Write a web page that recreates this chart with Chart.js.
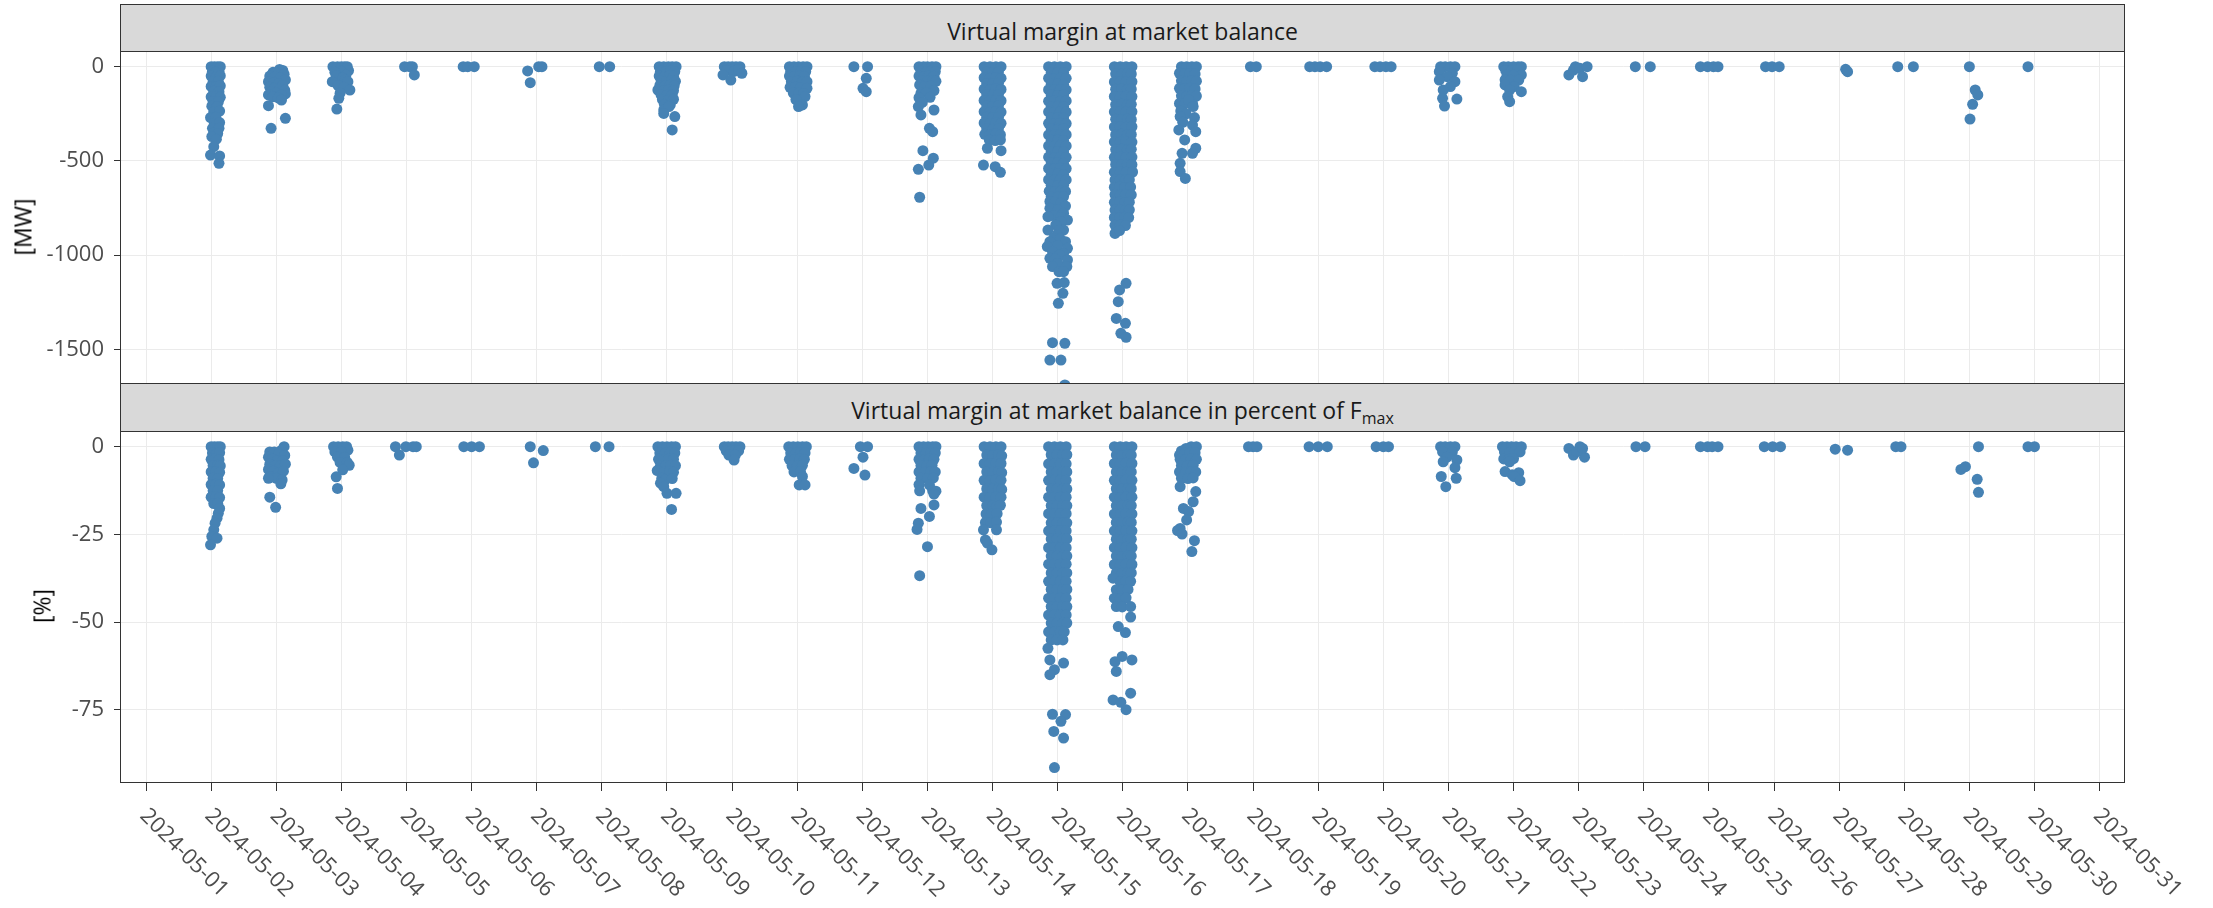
<!DOCTYPE html>
<html>
<head>
<meta charset="utf-8">
<script src="https://cdn.jsdelivr.net/npm/chart.js@4.4.1/dist/chart.umd.min.js"></script>
<style>
  html, body { margin:0; padding:0; background:#ffffff; width:2213px; height:908px; overflow:hidden; font-family:'Open Sans', sans-serif; }
  canvas { position:absolute; left:0; }
  #c1 { top:0; }
  #c2 { top:380px; }
  .strip { position:absolute; left:120px; width:2005px; box-sizing:border-box; background:#d9d9d9; border:1px solid #333333; }
  .stripText { position:absolute; left:120px; width:2005px; text-align:center; font-size:23px; line-height:23px; color:#1a1a1a; white-space:nowrap; }
  .stripText .sub { font-size:16px; vertical-align:-5px; }
  .ytitle { position:absolute; font-size:23px; line-height:23px; color:#000000; white-space:nowrap; transform:translate(-50%,-50%) rotate(-90deg); }
</style>
</head>
<body>
<canvas id="c1" width="2213" height="392"></canvas>
<canvas id="c2" width="2213" height="528"></canvas>
<div class="strip" style="top:4px;height:48px"></div>
<div class="stripText" style="top:20px">Virtual margin at market balance</div>
<div class="strip" style="top:383px;height:49px"></div>
<div class="stripText" style="top:399px">Virtual margin at market balance in percent of F<span class="sub">max</span></div>
<div class="ytitle" style="left:23px;top:227px">[MW]</div>
<div class="ytitle" style="left:42px;top:606px">[%]</div>
<script>
// ---------------- DATA ----------------
const tickLabels = ['2024-05-01','2024-05-02','2024-05-03','2024-05-04','2024-05-05','2024-05-06','2024-05-07','2024-05-08','2024-05-09','2024-05-10','2024-05-11','2024-05-12','2024-05-13','2024-05-14','2024-05-15','2024-05-16','2024-05-17','2024-05-18','2024-05-19','2024-05-20','2024-05-21','2024-05-22','2024-05-23','2024-05-24','2024-05-25','2024-05-26','2024-05-27','2024-05-28','2024-05-29','2024-05-30','2024-05-31'];
const mwTicks = [-1500, -1000, -500, 0];
const pctTicks = [-75, -50, -25, 0];

// Each point: [time offset from the day's tick (days), value]
// Virtual margin at market balance [MW]
const mw0502 = [[0,0],[.05,0],[.1,0],[.14,0],[.02,-25],[.12,-25],[.07,-30],[0,-50],[.08,-52],[.14,-48],[.03,-80],[.11,-78],[0,-105],[.07,-108],[.14,-102],[.04,-130],[.12,-133],[0,-160],[.08,-157],[.14,-163],[.03,-185],[.11,-188],[.01,-210],[.09,-213],[.04,-240],[.13,-236],[-.01,-270],[.07,-268],[.05,-300],[.13,-297],[.02,-327],[.12,-327],[.04,-352],[.1,-355],[.01,-371],[.08,-385],[.04,-425],[-.01,-469],[.13,-474],[.12,-513]];
const mw0503 = [[.05,-15],[.1,-20],[-.05,-30],[0,-35],[.12,-40],[-.1,-50],[-.02,-55],[.06,-60],[.14,-70],[-.12,-80],[-.04,-85],[.04,-90],[.1,-100],[-.1,-110],[-.03,-115],[.05,-120],[.13,-125],[-.08,-135],[0,-140],[.14,-145],[-.12,-150],[.08,-150],[-.05,-160],[.03,-165],[.08,-177],[-.12,-207],[.14,-274],[-.08,-327]];
const mw0504 = [[-.13,0],[-.06,0],[0,0],[.05,0],[.09,0],[.11,-21],[0,-25],[-.1,-30],[-.08,-50],[.07,-45],[.02,-60],[.06,-71],[-.14,-80],[.1,-80],[-.05,-100],[.04,-110],[.13,-124],[-.02,-141],[-.04,-168],[-.07,-225]];
const mw0505 = [[-.03,0],[.05,0],[.09,0],[.12,-44]];
const mw0506 = [[-.13,0],[-.06,0],[.04,0]];
const mw0507 = [[-.14,-23],[-.1,-85],[.03,0],[.08,0]];
const mw0508 = [[-.04,0],[.12,0]];
const mw0509 = [[-.12,0],[-.05,0],[.02,0],[.08,0],[.14,0],[-.1,-25],[-.02,-27],[.06,-23],[.12,-26],[-.12,-50],[-.04,-52],[.04,-48],[.1,-51],[-.09,-75],[-.01,-77],[.07,-74],[.13,-78],[-.11,-100],[-.03,-103],[.05,-98],[.11,-101],[-.14,-124],[-.05,-127],[.03,-123],[.1,-126],[-.09,-150],[0,-152],[.08,-148],[-.07,-175],[.02,-178],[.1,-173],[-.04,-200],[.05,-203],[-.05,-230],[.03,-212],[-.05,-248],[.12,-265],[.08,-336]];
const mw0510 = [[-.12,0],[-.06,0],[0,0],[.06,0],[.12,0],[-.08,-20],[.03,-25],[.1,-15],[.15,-35],[-.14,-44],[-.02,-71]];
const mw0511 = [[-.12,0],[-.05,0],[.02,0],[.09,0],[.15,0],[-.1,-25],[-.02,-27],[.06,-24],[.13,-26],[-.12,-50],[-.04,-52],[.04,-49],[.11,-51],[-.09,-80],[0,-78],[.08,-82],[.15,-80],[-.11,-110],[-.03,-108],[.05,-112],[.15,-115],[-.06,-140],[.03,-138],[.1,-142],[.12,-159],[-.02,-175],[.08,-203],[.02,-212]];
const mw0512 = [[-.13,0],[.08,0],[.06,-62],[.01,-115],[.06,-133]];
const mw0513 = [[-.13,0],[-.06,0],[0,0],[.07,0],[.13,0],[-.1,-25],[-.02,-27],[.05,-24],[.12,-26],[-.13,-50],[-.05,-52],[.02,-49],[.1,-51],[-.08,-75],[0,-77],[.08,-74],[.13,-78],[-.12,-97],[-.04,-105],[.05,-103],[.1,-127],[-.1,-140],[-.02,-138],[-.13,-165],[.04,-163],[-.08,-190],[-.14,-212],[.1,-230],[-.1,-256],[.03,-327],[.08,-345],[-.07,-446],[.09,-486],[.02,-522],[-.14,-545],[-.12,-693]];
const mw0514 = [[-.13,0],[-.04,0],[.05,0],[.13,0],[-.09,-28],[0,-31],[.09,-29],[-.13,-59],[-.04,-62],[.05,-58],[.13,-61],[-.09,-89],[0,-92],[.09,-88],[-.13,-119],[-.04,-122],[.05,-118],[.13,-121],[-.09,-149],[0,-152],[.09,-148],[-.13,-179],[-.04,-182],[.05,-178],[.13,-181],[-.09,-209],[0,-212],[.09,-208],[-.13,-239],[-.04,-242],[.05,-238],[.13,-241],[-.09,-269],[0,-272],[.09,-268],[-.13,-299],[-.04,-302],[.05,-298],[.13,-301],[-.09,-329],[0,-332],[.09,-328],[-.12,-359],[-.04,-362],[.05,-358],[.12,-361],[-.05,-389],[.04,-392],[.12,-388],[-.08,-433],[.13,-446],[-.14,-522],[.04,-531],[.12,-561]];
const mw0515 = [[-.14,0],[-.05,0],[.04,0],[.13,0],[-.1,-32],[0,-30],[.09,-33],[-.14,-61],[-.05,-63],[.04,-60],[.13,-62],[-.1,-93],[0,-91],[.09,-94],[-.14,-122],[-.05,-124],[.04,-121],[.13,-123],[-.1,-151],[0,-153],[.09,-150],[-.14,-183],[-.05,-181],[.04,-184],[.13,-182],[-.1,-212],[0,-210],[.09,-213],[-.14,-240],[-.05,-242],[.04,-239],[.13,-241],[-.1,-272],[0,-270],[.09,-273],[-.14,-301],[-.05,-303],[.04,-300],[.13,-302],[-.1,-330],[0,-332],[.09,-329],[-.14,-362],[-.05,-360],[.04,-363],[.13,-361],[-.1,-391],[0,-389],[.09,-392],[-.14,-420],[-.05,-422],[.04,-419],[.13,-421],[-.1,-452],[0,-450],[.09,-453],[-.14,-480],[-.05,-482],[.04,-479],[.13,-481],[-.1,-511],[0,-509],[.09,-512],[-.14,-540],[-.05,-542],[.04,-539],[.13,-541],[-.1,-571],[0,-569],[.09,-572],[-.14,-600],[-.05,-602],[.04,-599],[.13,-601],[-.1,-630],[0,-632],[.09,-629],[-.13,-661],[-.04,-663],[.05,-660],[.12,-662],[-.1,-690],[0,-692],[.09,-689],[-.12,-715],[-.05,-720],[.05,-725],[.12,-740],[-.12,-752],[0,-760],[.09,-778],[-.07,-790],[-.15,-796],[.05,-800],[.15,-814],[.05,-823],[-.03,-840],[-.15,-867],[.09,-867],[.02,-870],[-.01,-893],[-.06,-910],[.04,-915],[-.12,-929],[.12,-929],[0,-950],[-.16,-955],[.15,-964],[-.08,-982],[.09,-991],[.03,-1000],[-.12,-1017],[-.04,-1020],[.15,-1026],[0,-1044],[-.08,-1061],[.14,-1061],[.02,-1088],[.09,-1088],[-.01,-1150],[.1,-1146],[.08,-1203],[.01,-1256],[-.08,-1465],[.11,-1468],[-.12,-1557],[.05,-1557],[.11,-1689]];
const mw0516 = [[-.13,0],[-.04,0],[.05,0],[.14,0],[-.11,-38],[-.02,-40],[.07,-37],[.13,-39],[-.13,-81],[-.04,-79],[.05,-82],[.14,-80],[-.11,-120],[-.02,-118],[.07,-121],[.13,-119],[-.13,-158],[-.04,-160],[.05,-157],[.14,-159],[-.11,-201],[-.02,-199],[.07,-202],[.13,-200],[-.13,-240],[-.04,-238],[.05,-241],[.14,-239],[-.11,-279],[-.02,-281],[.07,-278],[.13,-280],[-.13,-320],[-.04,-318],[.05,-321],[.14,-319],[-.11,-361],[-.02,-359],[.07,-362],[.13,-360],[-.13,-399],[-.04,-401],[.05,-398],[.14,-400],[-.11,-440],[-.02,-438],[.07,-441],[.13,-439],[-.13,-481],[-.04,-479],[.05,-482],[.14,-480],[-.11,-519],[-.02,-521],[.07,-518],[.14,-520],[-.13,-560],[-.04,-558],[.05,-561],[.15,-559],[-.12,-601],[-.04,-599],[.04,-602],[.1,-600],[-.13,-640],[-.05,-638],[.03,-641],[.12,-639],[-.12,-679],[-.04,-681],[.04,-678],[.13,-680],[-.13,-720],[-.05,-718],[.03,-721],[.1,-719],[-.12,-761],[-.04,-759],[.04,-762],[.1,-760],[-.13,-800],[-.05,-802],[.03,-799],[.09,-801],[-.12,-842],[-.04,-840],[.04,-843],[-.12,-885],[-.05,-870],[.05,-1150],[-.05,-1185],[-.07,-1247],[-.1,-1336],[.04,-1362],[-.03,-1415],[.05,-1436]];
const mw0517 = [[-.1,0],[-.02,0],[.06,0],[.13,0],[-.13,-35],[-.05,-38],[.03,-36],[.11,-39],[-.1,-75],[-.02,-78],[.06,-74],[.13,-77],[-.13,-115],[-.05,-117],[.03,-114],[.11,-118],[-.1,-155],[-.02,-157],[.06,-154],[.13,-156],[-.13,-195],[-.05,-197],[.07,-194],[-.11,-235],[.01,-177],[.08,-212],[-.03,-250],[-.12,-265],[.1,-270],[-.08,-295],[.07,-310],[-.14,-336],[.12,-345],[-.05,-389],[.12,-433],[-.09,-460],[.07,-460],[-.12,-513],[-.12,-557],[-.04,-593]];
const mw0518 = [[-.04,0],[.05,0]];
const mw0519 = [[-.13,0],[-.05,0],[.03,0],[.13,0]];
const mw0520 = [[-.13,0],[-.05,0],[.04,0],[.12,0]];
const mw0521 = [[-.12,0],[-.05,0],[.03,0],[.1,0],[-.14,-27],[.06,-35],[-.02,-53],[-.14,-71],[.1,-80],[.03,-106],[-.08,-124],[-.09,-168],[.13,-172],[-.06,-209]];
const mw0522 = [[-.15,0],[-.08,0],[0,0],[.07,0],[.12,0],[-.12,-20],[-.03,-22],[.06,-19],[.12,-44],[-.1,-44],[0,-46],[-.13,-70],[-.04,-72],[.08,-71],[-.13,-97],[.01,-106],[-.06,-124],[.12,-133],[-.09,-159],[-.06,-186]];
const mw0523 = [[-.15,-44],[-.08,-18],[-.05,0],[.02,-9],[.06,-53],[.13,0]];
const mw0524 = [[-.13,0],[.1,0]];
const mw0525 = [[-.13,0],[-.02,0],[.07,0],[.14,0]];
const mw0526 = [[-.13,0],[-.03,0],[.08,0]];
const mw0527 = [[.1,-14],[.13,-27]];
const mw0528 = [[-.1,0],[.14,0]];
const mw0529 = [[0,0],[.09,-124],[.13,-150],[.05,-200],[.01,-278]];
const mw0530 = [[-.1,0]];

// Virtual margin at market balance in percent of Fmax [%]
const pct0502 = [[0,0],[.05,0],[.1,0],[.14,0],[.02,-1.8],[.08,-1.9],[.13,-1.7],[0,-3.6],[.06,-3.5],[.12,-3.7],[.03,-5.4],[.1,-5.3],[.14,-5.5],[0,-7.2],[.07,-7.1],[.13,-7.3],[.03,-9],[.1,-9.1],[0,-10.8],[.07,-10.7],[.13,-10.9],[.03,-12.6],[.1,-12.5],[0,-14.4],[.07,-14.3],[.13,-14.5],[.04,-16.2],[.1,-16.1],[.13,-17.6],[.11,-19],[.09,-20.4],[.06,-21.8],[.04,-23.7],[.01,-25.6],[.09,-26.1],[-.01,-28]];
const pct0503 = [[.12,0],[.08,-1],[-.1,-1.5],[-.03,-1.5],[.04,-2],[.13,-2.5],[-.12,-3],[-.06,-3.5],[.02,-4],[.1,-4],[-.1,-5],[-.02,-5.5],[.06,-5.5],[.14,-5],[-.12,-6.5],[-.05,-7],[.03,-7.5],[.11,-7],[-.1,-8.5],[0,-9],[.09,-9.5],[-.12,-9],[.07,-10.6],[-.1,-14.4],[-.01,-17.3]];
const pct0504 = [[-.12,0],[-.05,0],[.02,0],[.08,0],[.1,-1],[-.1,-1.5],[0,-1.5],[-.06,-3],[.05,-3],[-.02,-4.5],[.09,-4.5],[.12,-5.3],[.02,-6.6],[-.08,-8.6],[-.06,-11.9]];
const pct0505 = [[-.17,0],[-.11,-2.4],[-.01,0],[.1,0],[.15,0]];
const pct0506 = [[-.12,0],[0,0],[.12,0]];
const pct0507 = [[-.1,0],[.1,-1.1],[-.05,-4.6]];
const pct0508 = [[-.1,0],[.11,0]];
const pct0509 = [[-.14,0],[-.07,0],[0,0],[.07,0],[.13,0],[-.11,-1.8],[-.03,-1.9],[.05,-1.7],[.12,-1.8],[-.13,-3.6],[-.05,-3.7],[.03,-3.5],[.1,-3.6],[-.1,-5.4],[-.02,-5.5],[.06,-5.3],[.13,-5.4],[-.15,-6.8],[-.04,-7.2],[.04,-7.1],[.1,-7.3],[-.08,-9],[-.03,-9.5],[.08,-9.1],[-.1,-10.4],[-.05,-11.4],[0,-13.3],[.14,-13.3],[.07,-17.9]];
const pct0510 = [[-.12,0],[-.06,0],[0,0],[.06,0],[.12,0],[-.09,-1.2],[-.02,-1.3],[.04,-1.1],[.1,-1.2],[-.05,-2.4],[.05,-2.4],[.03,-3.8]];
const pct0511 = [[-.13,0],[-.06,0],[.01,0],[.08,0],[.14,0],[-.1,-1.8],[-.02,-1.9],[.05,-1.7],[.12,-1.8],[-.12,-3.6],[-.04,-3.7],[.04,-3.5],[.11,-3.6],[-.08,-5.4],[0,-5.5],[.08,-5.3],[-.05,-7.2],[.05,-7.1],[.08,-8.5],[.03,-10.9],[.12,-10.9]];
const pct0512 = [[-.03,0],[.08,0],[.01,-3],[-.13,-6.2],[.04,-8.1]];
const pct0513 = [[-.13,0],[-.06,0],[.01,0],[.08,0],[.13,0],[-.1,-1.8],[-.02,-1.9],[.05,-1.7],[.12,-1.8],[-.13,-3.6],[-.05,-3.7],[.03,-3.5],[.1,-3.6],[-.1,-5.4],[-.01,-5.5],[.07,-5.3],[-.13,-7.2],[-.04,-7.3],[.05,-7.1],[.12,-7.2],[-.1,-9],[0,-9.1],[.09,-8.9],[-.13,-10.8],[.03,-10.9],[-.12,-12.6],[.08,-12.5],[.13,-12.7],[.1,-13.5],[.1,-16.6],[-.1,-17.6],[.03,-19.9],[-.14,-21.8],[-.16,-23.6],[0,-28.5],[-.12,-36.8]];
const pct0514 = [[-.13,0],[-.04,0],[.05,0],[.13,0],[-.09,-2.4],[0,-2.5],[.09,-2.3],[.14,-2.6],[-.13,-4.8],[-.04,-4.9],[.05,-4.7],[.13,-4.8],[-.09,-7.2],[0,-7.3],[.09,-7.1],[.14,-7.4],[-.13,-9.6],[-.04,-9.7],[.05,-9.5],[.13,-9.6],[-.09,-12],[0,-12.1],[.09,-11.9],[.14,-12.2],[-.13,-14.4],[-.04,-14.5],[.05,-14.3],[.13,-14.4],[-.09,-16.8],[0,-16.9],[.06,-17.1],[.12,-16.7],[-.1,-19.2],[-.02,-19.3],[.07,-19.1],[-.11,-21.6],[-.03,-21.7],[.06,-21.5],[-.14,-23.7],[.06,-23.7],[-.11,-26.6],[-.08,-27.5],[-.01,-29.4]];
const pct0515 = [[-.14,0],[-.05,0],[.04,0],[.13,0],[-.1,-2.3],[-.01,-2.3],[.08,-2.3],[.14,-2.3],[-.14,-4.9],[-.05,-4.9],[.04,-4.9],[.13,-4.9],[-.1,-7.2],[-.01,-7.2],[.08,-7.2],[.14,-7.2],[-.14,-9.6],[-.05,-9.6],[.04,-9.6],[.13,-9.6],[-.1,-12.1],[-.01,-12.1],[.08,-12.1],[.14,-12.1],[-.14,-14.4],[-.05,-14.4],[.04,-14.4],[.13,-14.4],[-.1,-16.8],[-.01,-16.8],[.08,-16.8],[.14,-16.8],[-.14,-19.1],[-.05,-19.1],[.04,-19.1],[.13,-19.1],[-.1,-21.7],[-.01,-21.7],[.08,-21.7],[.14,-21.7],[-.14,-24],[-.05,-24],[.04,-24],[.13,-24],[-.1,-26.3],[-.01,-26.3],[.08,-26.3],[.14,-26.3],[-.14,-28.8],[-.05,-28.8],[.04,-28.8],[.13,-28.8],[-.1,-31.2],[-.01,-31.2],[.08,-31.2],[.14,-31.2],[-.14,-33.5],[-.05,-33.5],[.04,-33.5],[.13,-33.5],[-.1,-36],[-.01,-36],[.08,-36],[.14,-36],[-.14,-38.4],[-.05,-38.4],[.04,-38.4],[.13,-38.4],[-.1,-40.7],[-.01,-40.7],[.08,-40.7],[.14,-40.7],[-.14,-43.2],[-.05,-43.2],[.04,-43.2],[.13,-43.2],[-.1,-45.6],[-.01,-45.6],[.08,-45.6],[.14,-45.6],[-.14,-48],[-.05,-48],[.04,-48],[.13,-48],[-.1,-50.3],[-.01,-50.3],[.08,-50.3],[.14,-50.3],[-.14,-52.8],[-.05,-52.8],[.04,-52.8],[.1,-52.8],[-.1,-55.1],[-.01,-55.1],[.08,-55.1],[-.15,-57.5],[-.12,-60.8],[.09,-61.7],[-.05,-63.6],[-.12,-65],[-.08,-76.3],[.12,-76.4],[.05,-78.3],[-.06,-81.2],[.09,-83.1],[-.05,-91.5]];
const pct0516 = [[-.13,0],[-.04,0],[.05,0],[.14,0],[-.1,-2.4],[-.01,-2.5],[.08,-2.3],[.13,-2.4],[-.13,-4.8],[-.04,-4.9],[.05,-4.7],[.14,-4.8],[-.1,-7.2],[-.01,-7.3],[.08,-7.1],[.13,-7.2],[-.13,-9.6],[-.04,-9.7],[.05,-9.5],[.14,-9.6],[-.1,-12],[-.01,-12.1],[.08,-11.9],[.13,-12],[-.13,-14.4],[-.04,-14.5],[.05,-14.3],[.14,-14.4],[-.1,-16.8],[-.01,-16.9],[.08,-16.7],[.13,-16.8],[-.13,-19.2],[-.04,-19.3],[.05,-19.1],[.14,-19.2],[-.1,-21.6],[-.01,-21.7],[.08,-21.5],[.13,-21.6],[-.13,-24],[-.04,-24.1],[.05,-23.9],[.14,-24],[-.1,-26.4],[-.01,-26.5],[.08,-26.3],[.13,-26.4],[-.13,-28.8],[-.04,-28.9],[.05,-28.7],[.14,-28.8],[-.1,-31.2],[-.01,-31.3],[.08,-31.1],[.13,-31.2],[-.13,-33.6],[-.04,-33.7],[.05,-33.5],[.14,-33.6],[-.1,-36],[-.01,-36.1],[.08,-35.9],[.13,-36],[-.15,-37.5],[-.04,-38.5],[.05,-38.3],[.12,-38.4],[-.1,-40.8],[-.01,-40.9],[.08,-40.7],[-.13,-43.2],[-.04,-43.3],[.05,-43.1],[-.1,-45.6],[-.01,-45.7],[.12,-45.6],[.12,-48.6],[-.07,-51.3],[.04,-53],[-.01,-59.8],[.14,-60.8],[-.12,-61.3],[-.1,-64.1],[.12,-70.3],[-.15,-72.2],[-.03,-72.9],[.05,-75]];
const pct0517 = [[.05,0],[.13,0],[-.03,-0.5],[-.1,-1.2],[-.13,-2.4],[-.05,-1.9],[.03,-1.8],[.11,-1.7],[-.12,-3.6],[-.04,-3.7],[.05,-3.5],[.13,-3.6],[-.1,-5.4],[-.01,-5.5],[.08,-5.3],[-.13,-7.2],[-.04,-7.3],[.05,-7.1],[.12,-7.2],[-.1,-9],[0,-9.1],[.08,-8.9],[-.12,-11.4],[.12,-12.8],[.08,-15.7],[-.07,-17.6],[.01,-18.5],[-.02,-20.9],[-.12,-23.3],[-.16,-23.9],[-.09,-24.9],[.1,-26.8],[.06,-29.9]];
const pct0518 = [[-.07,0],[0,0],[.06,0]];
const pct0519 = [[-.14,0],[0,0],[.14,0]];
const pct0520 = [[-.11,0],[0,0],[.08,0]];
const pct0521 = [[-.12,0],[-.05,0],[.03,0],[.1,0],[-.09,-1.5],[.06,-1.5],[-.02,-3],[-.08,-4.3],[.13,-3.8],[.1,-6],[-.11,-8.5],[.12,-9],[-.04,-11.4]];
const pct0522 = [[-.17,0],[-.1,0],[-.03,0],[.04,0],[.12,0],[-.14,-1.5],[-.06,-1.6],[.02,-1.4],[.1,-1.5],[-.15,-3.5],[-.07,-3.6],[0,-3.4],[-.06,-4.3],[-.13,-7.1],[.08,-7.4],[-.02,-8],[.01,-8.5],[.1,-9.7]];
const pct0523 = [[-.15,-0.5],[-.08,-2.4],[.02,0],[.09,-3],[-.03,-1.4],[.06,-0.5]];
const pct0524 = [[-.12,0],[.02,0]];
const pct0525 = [[-.13,0],[-.02,0],[.05,0],[.14,0]];
const pct0526 = [[-.15,0],[-.02,0],[.1,0]];
const pct0527 = [[-.06,-0.7],[.13,-1]];
const pct0528 = [[-.13,0],[-.05,0]];
const pct0529 = [[-.13,-6.5],[-.06,-5.7],[.12,-9.3],[.14,-13],[.14,0]];
const pct0530 = [[-.1,0],[0,0]];

// day index (position in list) + 1 = days after 2024-05-01
const mwByDay = [mw0502,mw0503,mw0504,mw0505,mw0506,mw0507,mw0508,mw0509,mw0510,mw0511,mw0512,mw0513,mw0514,mw0515,mw0516,mw0517,mw0518,mw0519,mw0520,mw0521,mw0522,mw0523,mw0524,mw0525,mw0526,mw0527,mw0528,mw0529,mw0530];
const pctByDay = [pct0502,pct0503,pct0504,pct0505,pct0506,pct0507,pct0508,pct0509,pct0510,pct0511,pct0512,pct0513,pct0514,pct0515,pct0516,pct0517,pct0518,pct0519,pct0520,pct0521,pct0522,pct0523,pct0524,pct0525,pct0526,pct0527,pct0528,pct0529,pct0530];

// ---------------- CHARTS ----------------
Chart.defaults.font.family = "'Open Sans', sans-serif";
const GRID = '#ebebeb', INK = '#333333', TICK_TXT = '#4d4d4d', DOT = '#4682b4';
const X_MIN = -0.4, X_MAX = 30.39;

function toPoints(days) {
  const pts = [];
  days.forEach((arr, i) => arr.forEach(p => pts.push({ x: i + 1 + p[0], y: p[1] })));
  return pts;
}

const panelBorder = {
  id: 'panelBorder',
  afterDatasetsDraw(chart) {
    const { ctx, chartArea: a } = chart;
    ctx.save();
    ctx.strokeStyle = INK;
    ctx.lineWidth = 1;
    ctx.strokeRect(a.left + 0.5, a.top + 0.5, a.right - a.left - 1, a.bottom - a.top - 1);
    ctx.restore();
  }
};

const xLabels = {
  id: 'xLabels',
  afterDraw(chart) {
    const { ctx, chartArea: a } = chart;
    const xs = chart.scales.x;
    ctx.save();
    ctx.font = '22px "Open Sans"';
    ctx.fillStyle = TICK_TXT;
    ctx.textAlign = 'left';
    ctx.textBaseline = 'middle';
    xs.ticks.forEach(t => {
      const px = xs.getPixelForValue(t.value);
      ctx.save();
      ctx.translate(px - 2.7, a.bottom + 29.4);
      ctx.rotate(Math.PI / 4);
      ctx.fillText(tickLabels[t.value], 0, 0);
      ctx.restore();
    });
    ctx.restore();
  }
};

function makeChart(id, points, yMin, yMax, yTicks, padBottom, xAxisH, drawXTicks, extraPlugins) {
  return new Chart(document.getElementById(id), {
    type: 'scatter',
    data: { datasets: [{
      data: points,
      pointRadius: 5.5,
      pointHoverRadius: 5.5,
      pointBackgroundColor: DOT,
      backgroundColor: DOT,
      borderColor: DOT,
      pointBorderWidth: 0,
      showLine: false,
      clip: 0
    }] },
    options: {
      responsive: false,
      animation: false,
      events: [],
      layout: { padding: { top: 51, right: 88, bottom: padBottom, left: 0 } },
      plugins: { legend: { display: false }, tooltip: { enabled: false }, title: { display: false } },
      scales: {
        x: {
          type: 'linear', min: X_MIN, max: X_MAX,
          afterBuildTicks: s => { s.ticks = tickLabels.map((_, i) => ({ value: i })); },
          afterFit: s => { s.height = xAxisH; s.paddingLeft = 0; s.paddingRight = 0; },
          ticks: { display: false },
          grid: { color: GRID, lineWidth: 1, drawTicks: drawXTicks, tickLength: 8, tickColor: INK, tickWidth: 1 },
          border: { display: false }
        },
        y: {
          type: 'linear', min: yMin, max: yMax,
          afterBuildTicks: s => { s.ticks = yTicks.map(v => ({ value: v })); },
          afterFit: s => { s.width = 120; s.paddingTop = 0; s.paddingBottom = 0; },
          ticks: { color: TICK_TXT, font: { size: 22 }, padding: 10, callback: v => String(v) },
          grid: { color: GRID, lineWidth: 1, drawTicks: true, tickLength: 6, tickColor: INK, tickWidth: 1 },
          border: { display: false }
        }
      }
    },
    plugins: [panelBorder].concat(extraPlugins)
  });
}

makeChart('c1', toPoints(mwByDay), -1684, 83, mwTicks, 8, 0, false, []);
makeChart('c2', toPoints(pctByDay), -95.9, 4.47, pctTicks, 117, 8, true, [xLabels]);
</script>
</body>
</html>
